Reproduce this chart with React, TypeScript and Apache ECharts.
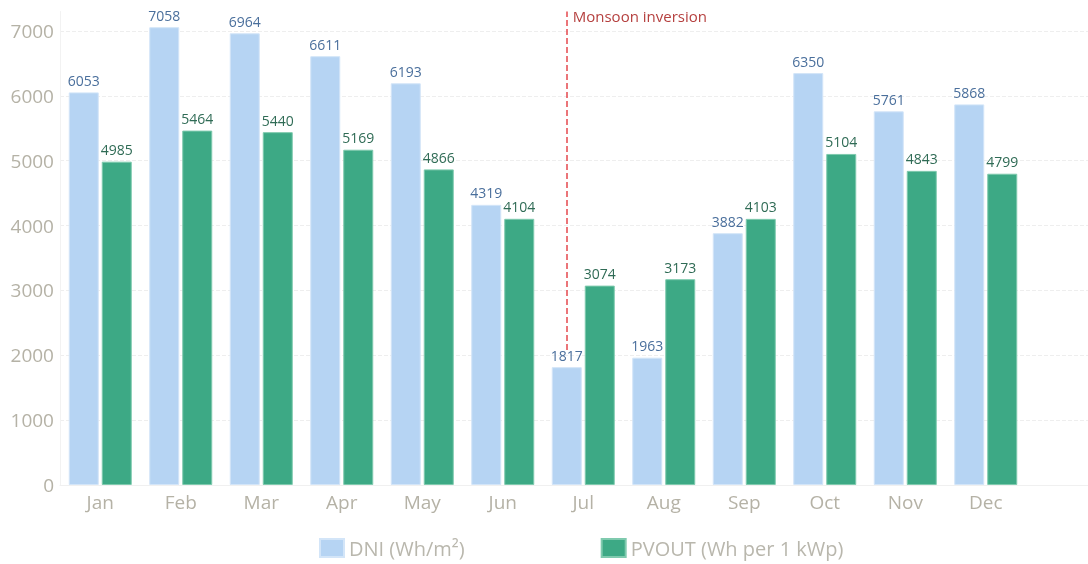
import React, { useEffect, useRef } from "react";
import * as echarts from "echarts";

const months = ["Jan", "Feb", "Mar", "Apr", "May", "Jun", "Jul", "Aug", "Sep", "Oct", "Nov", "Dec"];
const dniValues = [6053, 7058, 6964, 6611, 6193, 4319, 1817, 1963, 3882, 6350, 5761, 5868];
const pvoutValues = [4985, 5464, 5440, 5169, 4866, 4104, 3074, 3173, 4103, 5104, 4843, 4799];
const yTicks = { min: 0, max: 7300, interval: 1000 };
const monsoonMonth = "Jul";
const monsoonRange = [2080, 7300];
const seriesNames = ["DNI (Wh/m²)", "PVOUT (Wh per 1 kWp)"];

const FONT = "'Open Sans', sans-serif";

export default function App() {
  const ref = useRef<HTMLDivElement>(null);
  useEffect(() => {
    if (!ref.current) return;
    const chart = echarts.init(ref.current, null, { renderer: "svg" });
    chart.setOption({
      animation: false,
      textStyle: { fontFamily: FONT },
      grid: { left: 60, top: 11.5, bottom: 79, right: -18.5, outerBoundsMode: "none" },
      legend: {
        left: 314,
        top: 533,
        itemWidth: 24,
        itemHeight: 18,
        itemGap: 136,
        icon: "rect",
        textStyle: { color: "#b9b7ad", fontSize: 20, fontFamily: FONT },
        data: seriesNames,
      },
      xAxis: {
        type: "category",
        data: [...months, ""],
        axisLine: { show: true, lineStyle: { color: "#f0f0f0" } },
        axisTick: { show: false },
        axisLabel: { color: "#b5b2a6", fontSize: 19, margin: 7, fontFamily: FONT },
      },
      yAxis: {
        type: "value",
        min: yTicks.min,
        max: yTicks.max,
        interval: yTicks.interval,
        axisLine: { show: true, lineStyle: { color: "#f2f2f2" } },
        axisTick: { show: false },
        axisLabel: {
          color: "#b5b2a6",
          fontSize: 19,
          margin: 6,
          showMaxLabel: false,
          fontFamily: FONT,
          formatter: (v: number) => String(v),
        },
        splitLine: { show: true, showMaxLine: false, lineStyle: { color: "#eeeeee", type: "dashed" } },
      },
      series: [
        {
          name: seriesNames[0],
          type: "bar",
          data: dniValues,
          barWidth: 30,
          barGap: "10%",
          itemStyle: { color: "#b6d4f3", borderColor: "#d3e5f8", borderWidth: 1 },
          label: { show: true, position: "top", color: "#4a6f9c", fontSize: 14, fontFamily: FONT },
          markLine: {
            silent: true,
            symbol: "none",
            lineStyle: { color: "#e5484d", type: "dashed", width: 1.5 },
            label: {
              show: true,
              position: "end",
              formatter: "Monsoon inversion",
              color: "#b5403f",
              fontSize: 15,
              fontFamily: FONT,
              align: "left",
              verticalAlign: "middle",
              distance: [0, -4],
              padding: [0, 0, 0, 6],
            },
            data: [[{ coord: [monsoonMonth, monsoonRange[0]] }, { coord: [monsoonMonth, monsoonRange[1]] }]],
          },
        },
        {
          name: seriesNames[1],
          type: "bar",
          data: pvoutValues,
          barWidth: 30,
          barGap: "10%",
          itemStyle: { color: "#3da985", borderColor: "#7fcaae", borderWidth: 1 },
          label: { show: true, position: "top", color: "#2f6b55", fontSize: 14, fontFamily: FONT },
        },
      ],
    });
    return () => chart.dispose();
  }, []);
  return <div ref={ref} style={{ position: "fixed", left: 0, top: 0, width: 1088, height: 564 }} />;
}
